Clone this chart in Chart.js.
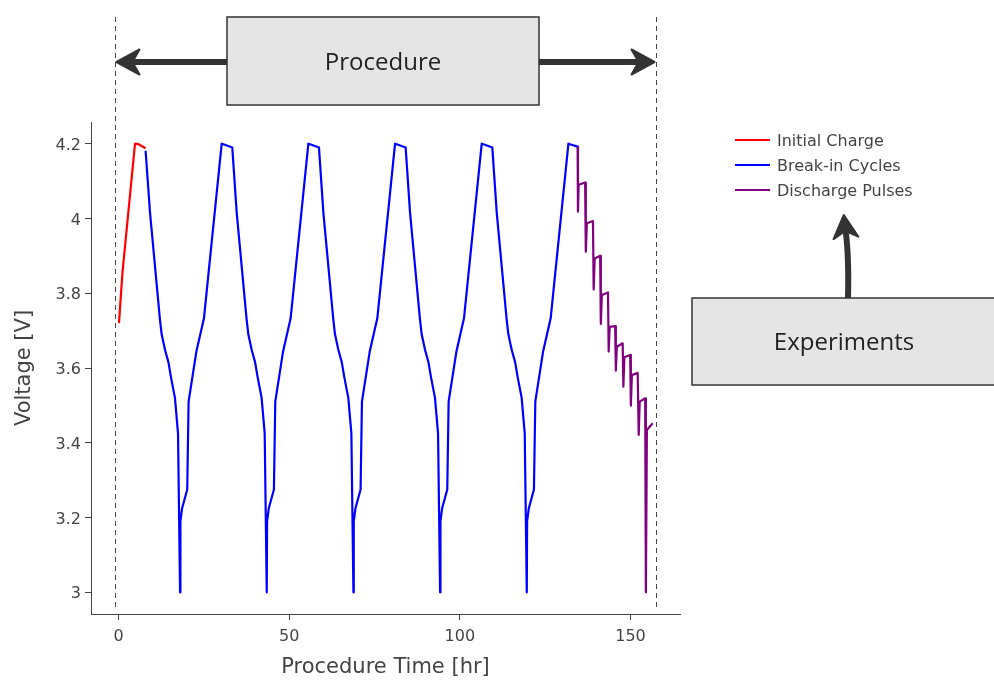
<!DOCTYPE html>
<html>
<head>
<meta charset="utf-8">
<script src="https://cdn.jsdelivr.net/npm/chart.js@4.4.1/dist/chart.umd.min.js"></script>
<style>
  html, body { margin: 0; padding: 0; background: #fff; }
</style>
</head>
<body>
<canvas id="myCanvas" width="994" height="680"></canvas>
<script>
// values
const chargeTime = [0.1, 1.1, 4.8, 5.7, 7.9];
const chargeVolt = [3.72, 3.853, 4.2, 4.199, 4.188];

const cycleTime = [
  7.9, 9.2, 12.1, 12.6, 13.6, 14.6, 15.3, 16.5, 17.4, 18.0, 18.1, 18.6, 20.1, 20.5, 22.8, 25.0, 30.2, 31.1,
  33.3, 34.6, 37.5, 38.0, 39.0, 40.0, 40.7, 41.9, 42.8, 43.4, 43.5, 44.0, 45.5, 45.9, 48.2, 50.4, 55.6, 56.5,
  58.7, 60.0, 62.9, 63.4, 64.4, 65.4, 66.1, 67.3, 68.2, 68.8, 68.9, 69.4, 70.9, 71.3, 73.6, 75.8, 81.0, 81.9,
  84.1, 85.4, 88.3, 88.8, 89.8, 90.8, 91.5, 92.7, 93.6, 94.2, 94.3, 94.8, 96.3, 96.7, 99.0, 101.2, 106.4, 107.3,
  109.5, 110.8, 113.7, 114.2, 115.2, 116.2, 116.9, 118.1, 119.0, 119.6, 119.7, 120.2, 121.7, 122.1, 124.4, 126.6, 131.8, 132.7,
  134.5
];
const cycleVolt = [
  4.181, 4.015, 3.73, 3.69, 3.648, 3.615, 3.577, 3.52, 3.425, 3.0, 3.19, 3.225, 3.275, 3.51, 3.645, 3.733, 4.2, 4.197,
  4.19, 4.015, 3.73, 3.69, 3.648, 3.615, 3.577, 3.52, 3.425, 3.0, 3.19, 3.225, 3.275, 3.51, 3.645, 3.733, 4.2, 4.197,
  4.19, 4.015, 3.73, 3.69, 3.648, 3.615, 3.577, 3.52, 3.425, 3.0, 3.19, 3.225, 3.275, 3.51, 3.645, 3.733, 4.2, 4.197,
  4.19, 4.015, 3.73, 3.69, 3.648, 3.615, 3.577, 3.52, 3.425, 3.0, 3.19, 3.225, 3.275, 3.51, 3.645, 3.733, 4.2, 4.197,
  4.19, 4.015, 3.73, 3.69, 3.648, 3.615, 3.577, 3.52, 3.425, 3.0, 3.19, 3.225, 3.275, 3.51, 3.645, 3.733, 4.2, 4.197,
  4.192
];

const pulseTime = [
  134.5, 134.6, 134.8, 136.7, 136.9, 137.2, 139.0, 139.2, 139.5, 141.1, 141.3, 141.6, 143.4, 143.6, 143.9, 145.5,
  145.7, 146.0, 147.7, 147.9, 148.2, 149.9, 150.1, 150.4, 152.1, 152.4, 152.7, 154.3, 154.5, 154.8, 156.5
];
const pulseVolt = [
  4.192, 4.018, 4.09, 4.096, 3.911, 3.987, 3.993, 3.81, 3.893, 3.9, 3.718, 3.795, 3.802, 3.644, 3.71, 3.712,
  3.593, 3.657, 3.666, 3.55, 3.629, 3.635, 3.499, 3.581, 3.587, 3.421, 3.51, 3.519, 3.0, 3.434, 3.452
];

const seriesNames = ['Initial Charge', 'Break-in Cycles', 'Discharge Pulses'];
const seriesColors = ['#ff0000', '#0000ff', '#800080'];
const xTicks = [0, 50, 100, 150];
const yTicks = [3, 3.2, 3.4, 3.6, 3.8, 4, 4.2];
const procedureBounds = [-1.1, 157.5];
const boxLabels = ['Procedure', 'Experiments'];

function toPoints(xs, ys) {
  return xs.map((x, i) => ({x: x, y: ys[i]}));
}

const seriesData = [
  toPoints(chargeTime, chargeVolt),
  toPoints(cycleTime, cycleVolt),
  toPoints(pulseTime, pulseVolt)
];

function arrowHead(ctx, tx, ty, angle) {
  ctx.save();
  ctx.translate(tx, ty);
  ctx.rotate(angle);
  ctx.lineJoin = 'round';
  ctx.lineWidth = 2;
  ctx.beginPath();
  ctx.moveTo(0, 0);
  ctx.lineTo(-23, -12.5);
  ctx.lineTo(-17, -2);
  ctx.lineTo(-17, 2);
  ctx.lineTo(-23, 12.5);
  ctx.closePath();
  ctx.fill();
  ctx.stroke();
  ctx.restore();
}

function box(ctx, x0, y0, x1, y1, text) {
  ctx.fillStyle = '#e5e5e5';
  ctx.fillRect(x0, y0, x1 - x0, y1 - y0);
  ctx.strokeStyle = '#333';
  ctx.lineWidth = 1.5;
  ctx.strokeRect(x0, y0, x1 - x0, y1 - y0);
  ctx.fillStyle = '#222';
  ctx.font = '24px "Open Sans"';
  ctx.textAlign = 'center';
  ctx.textBaseline = 'middle';
  ctx.fillText(text, (x0 + x1) / 2, (y0 + y1) / 2 + 2);
}

const annotations = {
  id: 'annotations',
  afterDraw(chart) {
    const ctx = chart.ctx;
    const x = chart.scales.x;
    const area = chart.chartArea;
    ctx.save();

    // procedure limits
    ctx.strokeStyle = '#444';
    ctx.lineWidth = 1;
    ctx.setLineDash([5, 4]);
    const px = procedureBounds.map(v => Math.round(x.getPixelForValue(v)) + 0.5);
    px.forEach(p => {
      ctx.beginPath();
      ctx.moveTo(p, 17);
      ctx.lineTo(p, area.bottom - 4);
      ctx.stroke();
    });
    ctx.setLineDash([]);

    // arrows
    ctx.strokeStyle = '#333';
    ctx.fillStyle = '#333';
    ctx.lineWidth = 6;
    ctx.beginPath();
    ctx.moveTo(227, 62); ctx.lineTo(px[0] + 18, 62);
    ctx.moveTo(539, 62); ctx.lineTo(px[1] - 18, 62);
    ctx.stroke();
    arrowHead(ctx, px[0] + 1, 62, Math.PI);
    arrowHead(ctx, px[1] - 2, 62, 0);

    ctx.lineWidth = 6;
    ctx.beginPath();
    ctx.moveTo(848, 298);
    ctx.quadraticCurveTo(849, 258, 845.8, 232);
    ctx.stroke();
    arrowHead(ctx, 843.8, 215, Math.atan2(215 - 236, 843.8 - 845.8));

    box(ctx, 227, 17, 539, 105, boxLabels[0]);
    box(ctx, 692, 298, 996, 385, boxLabels[1]);

    // legend
    ctx.font = '16px "DejaVu Sans"';
    ctx.textAlign = 'left';
    ctx.textBaseline = 'middle';
    chart.data.datasets.forEach((ds, i) => {
      const y = 140 + i * 25;
      ctx.strokeStyle = ds.borderColor;
      ctx.lineWidth = 2;
      ctx.beginPath();
      ctx.moveTo(735, y);
      ctx.lineTo(770, y);
      ctx.stroke();
      ctx.fillStyle = '#444';
      ctx.fillText(ds.label, 777, y + 2);
    });
    ctx.restore();
  }
};

const ctx = document.getElementById('myCanvas').getContext('2d');
new Chart(ctx, {
  type: 'line',
  data: {
    datasets: seriesNames.map((name, i) => ({
      label: name,
      data: seriesData[i],
      borderColor: seriesColors[i],
      backgroundColor: seriesColors[i],
      borderWidth: 2.2,
      borderJoinStyle: 'round',
      pointRadius: 0,
      tension: 0,
      fill: false
    }))
  },
  options: {
    responsive: false,
    animation: false,
    devicePixelRatio: 1,
    layout: {padding: {top: 122, right: 314, bottom: 0, left: 0}},
    plugins: {legend: {display: false}, tooltip: {enabled: false}},
    scales: {
      x: {
        type: 'linear',
        min: -8.1,
        max: 164.5,
        afterBuildTicks: s => { s.ticks = xTicks.map(v => ({value: v})); },
        afterFit: s => { s.height = 66; },
        grid: {drawOnChartArea: false, drawTicks: true, tickLength: 6, color: '#444'},
        border: {display: true, color: '#444', width: 1},
        ticks: {font: {family: 'DejaVu Sans', size: 16}, color: '#444', padding: 7, maxRotation: 0},
        title: {display: true, text: 'Procedure Time [hr]', font: {family: 'DejaVu Sans', size: 21}, color: '#444', padding: {top: 0, bottom: 0}}
      },
      y: {
        min: 2.942,
        max: 4.258,
        afterBuildTicks: s => { s.ticks = yTicks.map(v => ({value: v})); },
        afterFit: s => { s.width = 91; },
        grid: {drawOnChartArea: false, drawTicks: true, tickLength: 6, color: '#444'},
        border: {display: true, color: '#444', width: 1},
        ticks: {font: {family: 'DejaVu Sans', size: 16}, color: '#444', padding: 4, labelOffset: 2, callback: v => String(+v.toFixed(1))},
        title: {display: true, text: 'Voltage [V]', font: {family: 'DejaVu Sans', size: 21}, color: '#444', padding: {top: 12, bottom: 0}}
      }
    }
  },
  plugins: [annotations]
});
</script>
</body>
</html>
